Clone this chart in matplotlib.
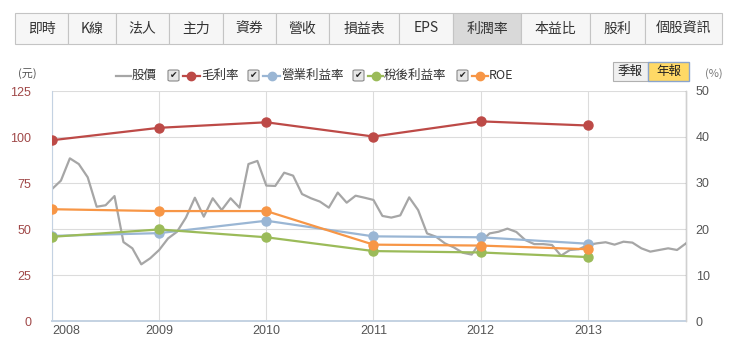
import matplotlib
matplotlib.use("Agg")
import matplotlib.pyplot as plt
from matplotlib.patches import Rectangle, FancyBboxPatch
from matplotlib.lines import Line2D

plt.rcParams['font.family'] = ['Noto Sans CJK TC', 'DejaVu Sans']

# ---- data ----
years = ['2008', '2009', '2010', '2011', '2012', '2013']

# monthly stock price (元), Jan 2008 .. Dec 2013
price = [71.7, 76.3, 88.4, 85.3, 78.1, 62.1, 62.9, 67.9, 42.9, 39.5, 30.8, 34.1,
         38.6, 44.9, 48.5, 56.2, 67.0, 56.7, 66.7, 60.3, 66.7, 61.6, 85.3, 87.0,
         73.6, 73.4, 80.6, 79.0, 69.0, 66.7, 64.9, 61.6, 69.8, 64.3, 68.1, 67.0,
         65.8, 57.1, 56.2, 57.4, 67.2, 60.3, 47.6, 45.8, 42.2, 40.0, 37.1, 36.1,
         43.1, 47.6, 48.5, 50.2, 48.4, 44.0, 41.8, 41.8, 41.3, 35.5, 38.6, 39.0,
         41.3, 42.2, 42.8, 41.5, 43.1, 42.6, 39.5, 37.7, 38.6, 39.5, 38.6, 42.2]

# yearly ratios (%)
gross_margin = [39.3, 42.0, 43.2, 40.1, 43.4, 42.5]
op_margin = [18.5, 19.1, 21.8, 18.4, 18.2, 16.8]
net_margin = [18.3, 19.9, 18.2, 15.2, 14.9, 13.9]
roe = [24.3, 23.9, 23.9, 16.6, 16.4, 15.6]

tabs = ['即時', 'K線', '法人', '主力', '資券', '營收', '損益表', 'EPS',
        '利潤率', '本益比', '股利', '個股資訊']
tab_edges = [15, 68, 116, 169, 223, 276, 329, 399, 453, 521, 590, 645, 722]

W, H = 731, 352
fig = plt.figure(figsize=(W / 100, H / 100), dpi=100)


def fx(x):
    return x / W


def fy(y):
    return 1 - y / H


# ---- tab bar ----
for i, name in enumerate(tabs):
    x0, x1 = tab_edges[i], tab_edges[i + 1]
    sel = name == '利潤率'
    fig.patches.append(Rectangle((fx(x0), fy(44)), fx(x1 - x0), (44 - 13) / H,
                                 transform=fig.transFigure,
                                 facecolor='#d9d9d9' if sel else '#f6f6f6',
                                 edgecolor='#c4c4c4', lw=0.8))
    fig.text(fx((x0 + x1) / 2), fy(28.5), name, ha='center', va='center',
             fontsize=10, color='#333333')

# ---- plot ----
ax = fig.add_axes([fx(52), fy(321), fx(686 - 52), (321 - 91) / H])
ax2 = ax.twinx()

months = list(range(len(price)))
ymonths = [12 * i for i in range(len(years))]

ax.plot(months, price, color='#a6a6a6', lw=1.6, zorder=2)
ax.set_xlim(0, 71)
ax.set_ylim(0, 125)
ax.set_yticks([0, 25, 50, 75, 100, 125])
ax.set_xticks(ymonths)
ax.set_xticklabels(years)
ax.grid(True, color='#dcdcdc', lw=0.8)
ax.set_axisbelow(True)
ax.tick_params(axis='y', length=0, pad=15, labelsize=9, labelcolor='#a04848')
ax.tick_params(axis='x', length=0, pad=3, labelsize=9, labelcolor='#555555')
for lab in ax.get_yticklabels():
    lab.set_fontfamily(['Liberation Sans', 'DejaVu Sans'])
for lab in ax.get_xticklabels():
    lab.set_fontfamily(['Liberation Sans', 'DejaVu Sans'])
ax.get_xticklabels()[0].set_ha('left')

for s in ['top']:
    ax.spines[s].set_visible(False)
    ax2.spines[s].set_visible(False)
ax.spines['left'].set_color('#c4d2e2')
ax.spines['bottom'].set_color('#c4d2e2')
ax.spines['bottom'].set_linewidth(1.4)
ax2.spines['left'].set_visible(False)
ax2.spines['bottom'].set_visible(False)
ax2.spines['right'].set_color('#d0d0d0')

series = [(gross_margin, '#bd4a47'), (op_margin, '#9ab6d4'),
          (net_margin, '#9bbb59'), (roe, '#f79646')]
for vals, c in series:
    ax2.plot(ymonths, vals, color=c, lw=1.6, marker='o', ms=6.5,
             markeredgecolor=c, zorder=3)
ax2.set_ylim(0, 50)
ax2.set_yticks([0, 10, 20, 30, 40, 50])
ax2.tick_params(axis='y', length=0, pad=7, labelsize=9, labelcolor='#555555')
for lab in ax2.get_yticklabels():
    lab.set_fontfamily(['Liberation Sans', 'DejaVu Sans'])

# axis unit labels
fig.text(fx(27), fy(74), '(元)', ha='center', va='center', fontsize=8,
         color='#555555')
fig.text(fx(714), fy(74), '(%)', ha='center', va='center', fontsize=8,
         color='#777777')

# ---- legend row ----
ly = 75.5


def legend_line(x0, x1, c, marker):
    fig.lines.append(Line2D([fx(x0), fx(x1)], [fy(ly), fy(ly)],
                            transform=fig.transFigure, color=c, lw=1.6))
    if marker:
        fig.lines.append(Line2D([fx((x0 + x1) / 2)], [fy(ly)],
                                transform=fig.transFigure, color=c,
                                marker='o', ms=6, ls=''))


def checkbox(x):
    fig.patches.append(FancyBboxPatch((fx(x), fy(ly + 5.5)), 11 / W, 11 / H,
                                      boxstyle='round,pad=0,rounding_size=0.003',
                                      transform=fig.transFigure,
                                      facecolor='#e6e6e6', edgecolor='#8a8a8a',
                                      lw=0.8))
    fig.text(fx(x + 5.5), fy(ly), '✔', ha='center', va='center', fontsize=6.5,
             color='#222222', family=['DejaVu Sans'])


legend_line(116, 131, '#a6a6a6', False)
fig.text(fx(132), fy(ly), '股價', ha='left', va='center', fontsize=9,
         color='#333333')
items = [(168, 183, 200, '毛利率', '#bd4a47'),
         (248, 263, 280, '營業利益率', '#9ab6d4'),
         (353, 368, 383, '稅後利益率', '#9bbb59'),
         (457, 472, 488, 'ROE', '#f79646')]
for cbx, l0, l1, name, c in items:
    checkbox(cbx)
    legend_line(l0, l1, c, True)
    fig.text(fx(l1 + 1), fy(ly), name, ha='left', va='center', fontsize=9,
             color='#333333')

# ---- 季報 / 年報 buttons ----
fig.patches.append(Rectangle((fx(613), fy(81)), 35 / W, 19 / H,
                             transform=fig.transFigure, facecolor='#f0f0f0',
                             edgecolor='#b0b0b0', lw=0.8))
fig.patches.append(Rectangle((fx(648), fy(81)), 41 / W, 19 / H,
                             transform=fig.transFigure, facecolor='#ffd966',
                             edgecolor='#8aa4cc', lw=1.0))
fig.text(fx(630.5), fy(71.5), '季報', ha='center', va='center', fontsize=9,
         color='#222222')
fig.text(fx(668.5), fy(71.5), '年報', ha='center', va='center', fontsize=9,
         color='#222222')

fig.savefig('out.png', dpi=100)
